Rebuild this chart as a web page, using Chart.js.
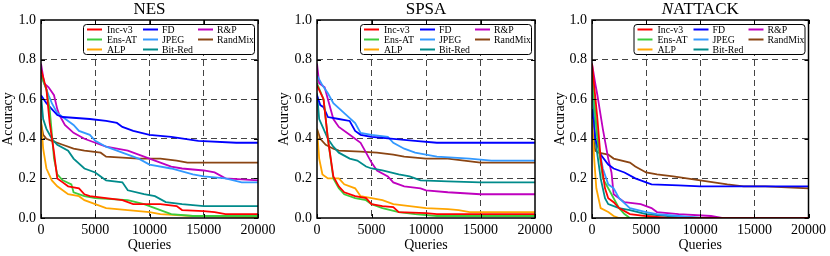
<!DOCTYPE html>
<html>
<head>
<meta charset="utf-8">
<script src="https://cdn.jsdelivr.net/npm/chart.js@4.4.1/dist/chart.umd.min.js"></script>
<style>
  body { margin: 0; background: #fff; }
  #wrap { position: relative; width: 830px; height: 256px; overflow: hidden; }
  canvas { position: absolute; top: 0; }
</style>
</head>
<body>
<div id="wrap">
  <canvas id="c1" width="285" height="256" style="left:0px"></canvas>
  <canvas id="c2" width="285" height="256" style="left:272px"></canvas>
  <canvas id="c3" width="282" height="256" style="left:548px"></canvas>
</div>
<script>
// series names and colours (legend order)
const seriesNames = ['Inc-v3', 'Ens-AT', 'ALP', 'FD', 'JPEG', 'Bit-Red', 'R&P', 'RandMix'];
const seriesColors = ['#ff0000', '#3ccc3c', '#ffa500', '#0000ff', '#3399ff', '#008b8b', '#bf00bf', '#8b4513'];
const xTicks = [0, 5000, 10000, 15000, 20000];
const yTicks = [0, 0.2, 0.4, 0.6, 0.8, 1.0];

// NES: [queries, accuracy]
const nesIncV3 = [[0,0.75],[500,0.65],[800,0.48],[1200,0.33],[1500,0.20],[2000,0.18],[2500,0.16],[3500,0.15],[4000,0.12],[4500,0.11],[6000,0.10],[7500,0.09],[8500,0.07],[11000,0.07],[12500,0.06],[13000,0.04],[15000,0.035],[16000,0.03],[17000,0.02],[20000,0.02]];
const nesEnsAT = [[0,0.72],[500,0.65],[800,0.55],[1200,0.30],[1500,0.22],[2000,0.19],[2800,0.17],[3000,0.13],[4000,0.11],[5000,0.10],[8000,0.09],[9500,0.07],[10500,0.05],[12000,0.02],[14000,0.01],[20000,0.01]];
const nesALP = [[0,0.50],[200,0.35],[500,0.25],[1000,0.19],[1500,0.16],[2000,0.14],[2500,0.12],[3500,0.11],[4000,0.09],[5000,0.07],[6000,0.05],[8000,0.04],[10000,0.03],[11000,0.02],[14000,0.01],[20000,0.005]];
const nesFD = [[0,0.62],[500,0.58],[1000,0.55],[1500,0.52],[2000,0.51],[4500,0.50],[6000,0.49],[7000,0.48],[7500,0.46],[8500,0.44],[10000,0.42],[12000,0.41],[14500,0.39],[18000,0.38],[20000,0.38]];
const nesJPEG = [[0,0.72],[300,0.68],[700,0.62],[1000,0.58],[1500,0.53],[2000,0.51],[3000,0.47],[3500,0.44],[4500,0.42],[5000,0.39],[6000,0.36],[7000,0.34],[8000,0.32],[9000,0.30],[10000,0.27],[12000,0.25],[14000,0.22],[15000,0.21],[17000,0.20],[18500,0.18],[20000,0.18]];
const nesBitRed = [[0,0.62],[200,0.50],[500,0.45],[1000,0.40],[1500,0.37],[2500,0.34],[3000,0.30],[4000,0.25],[5000,0.23],[5500,0.21],[6000,0.19],[7500,0.18],[8000,0.14],[9500,0.12],[10500,0.11],[11500,0.08],[13000,0.07],[15000,0.06],[20000,0.06]];
const nesRP = [[0,0.78],[300,0.68],[700,0.66],[1200,0.62],[1500,0.55],[1700,0.52],[2200,0.47],[3000,0.43],[4000,0.40],[5000,0.38],[6000,0.36],[7000,0.35],[8000,0.34],[9000,0.32],[10000,0.30],[11000,0.28],[12000,0.26],[13000,0.25],[15000,0.24],[16000,0.23],[17000,0.20],[20000,0.19]];
const nesRandMix = [[0,0.48],[200,0.42],[500,0.40],[1000,0.39],[2000,0.37],[3000,0.35],[4000,0.34],[5500,0.33],[6000,0.31],[9000,0.30],[11000,0.30],[12500,0.29],[13500,0.28],[20000,0.28]];

// SPSA
const spsaIncV3 = [[0,0.67],[600,0.60],[1000,0.40],[1500,0.21],[2000,0.16],[2500,0.13],[3500,0.11],[4500,0.10],[5000,0.07],[6000,0.06],[7000,0.055],[7500,0.03],[10000,0.025],[11000,0.02],[20000,0.02]];
const spsaEnsAT = [[0,0.68],[600,0.60],[1000,0.40],[1500,0.20],[2000,0.15],[2500,0.12],[3500,0.10],[4500,0.09],[5000,0.07],[6000,0.05],[7500,0.03],[9000,0.02],[11000,0.01],[20000,0.01]];
const spsaALP = [[0,0.45],[200,0.30],[500,0.22],[1000,0.20],[2000,0.20],[2500,0.17],[3500,0.15],[4000,0.11],[5000,0.10],[6000,0.09],[7000,0.07],[8500,0.06],[10000,0.05],[12000,0.045],[13000,0.04],[14000,0.03],[20000,0.03]];
const spsaFD = [[0,0.62],[300,0.57],[600,0.56],[1000,0.51],[2000,0.50],[3000,0.49],[3500,0.44],[4000,0.42],[5000,0.41],[7000,0.40],[9000,0.39],[11000,0.38],[20000,0.38]];
const spsaJPEG = [[0,0.72],[500,0.67],[1000,0.63],[1500,0.58],[2500,0.53],[3500,0.48],[4000,0.43],[5000,0.42],[6500,0.41],[7000,0.38],[8000,0.35],[9000,0.33],[11000,0.31],[14000,0.30],[16000,0.29],[20000,0.29]];
const spsaBitRed = [[0,0.63],[200,0.50],[600,0.45],[1000,0.40],[1500,0.36],[2000,0.33],[3000,0.30],[3700,0.29],[4500,0.26],[5000,0.25],[6000,0.24],[7500,0.22],[8500,0.21],[9000,0.20],[9500,0.19],[12000,0.185],[15000,0.18],[20000,0.18]];
const spsaRP = [[0,0.78],[200,0.68],[700,0.66],[1000,0.60],[1500,0.50],[2000,0.46],[3000,0.42],[4000,0.38],[4500,0.33],[5000,0.28],[5500,0.24],[6500,0.21],[7000,0.18],[8000,0.16],[9500,0.15],[10000,0.14],[12000,0.13],[15000,0.12],[20000,0.12]];
const spsaRandMix = [[0,0.45],[300,0.40],[800,0.37],[1500,0.35],[2000,0.34],[4000,0.335],[5500,0.33],[7000,0.32],[8000,0.31],[10000,0.30],[12000,0.30],[13500,0.29],[15000,0.28],[20000,0.28]];

// NATTACK
const natIncV3 = [[0,0.78],[500,0.50],[800,0.30],[1200,0.15],[1500,0.10],[2000,0.08],[2500,0.05],[3500,0.02],[5000,0.01],[7000,0],[20000,0]];
const natEnsAT = [[0,0.72],[500,0.40],[1000,0.20],[1500,0.15],[2000,0.10],[2500,0.05],[3000,0.02],[3500,0],[20000,0]];
const natALP = [[0,0.50],[200,0.30],[400,0.15],[800,0.05],[1500,0.03],[2000,0.01],[2500,0],[20000,0]];
const natFD = [[0,0.55],[300,0.40],[800,0.32],[1500,0.27],[2000,0.25],[3000,0.23],[4000,0.20],[5000,0.18],[5500,0.17],[8000,0.165],[10000,0.16],[20000,0.16]];
const natJPEG = [[0,0.70],[500,0.40],[1000,0.25],[1500,0.17],[2000,0.15],[2500,0.10],[3500,0.05],[5000,0.03],[6000,0.02],[8000,0.01],[10000,0],[20000,0]];
const natBitRed = [[0,0.70],[300,0.40],[800,0.20],[1200,0.10],[1500,0.07],[2500,0.05],[3500,0.04],[5000,0.02],[7000,0.01],[10000,0],[20000,0]];
const natRP = [[0,0.78],[300,0.68],[500,0.62],[1000,0.45],[1500,0.30],[1800,0.23],[2000,0.12],[2500,0.10],[3000,0.08],[4500,0.07],[5500,0.05],[6000,0.03],[8000,0.02],[11000,0.01],[12000,0],[20000,0]];
const natRandMix = [[0,0.45],[300,0.34],[600,0.33],[1500,0.32],[2000,0.30],[3500,0.28],[4000,0.26],[5000,0.23],[6000,0.22],[7500,0.21],[10000,0.19],[12500,0.17],[14000,0.16],[16000,0.16],[20000,0.15]];

const SERIF = '"Liberation Serif", "DejaVu Serif", serif';

const panels = [
  { id: 'c1', title: [{ t: 'NES' }], left: 41, right: 27, titlePad: 0,
    series: [nesIncV3, nesEnsAT, nesALP, nesFD, nesJPEG, nesBitRed, nesRP, nesRandMix] },
  { id: 'c2', title: [{ t: 'SPSA' }], left: 45, right: 22, titlePad: 4,
    series: [spsaIncV3, spsaEnsAT, spsaALP, spsaFD, spsaJPEG, spsaBitRed, spsaRP, spsaRandMix] },
  { id: 'c3', title: [{ t: 'N', italic: true }, { t: 'ATTACK' }], left: 44, right: 19, titlePad: 4,
    series: [natIncV3, natEnsAT, natALP, natFD, natJPEG, natBitRed, natRP, natRandMix] }
];

// frame, inner ticks, title and a 3-column legend inside the plot
const decor = {
  id: 'decor',
  afterDatasetsDraw(chart, args, opts) {
    const { ctx, chartArea: a, scales } = chart;
    ctx.save();
    ctx.strokeStyle = '#000';
    ctx.lineWidth = 1;
    xTicks.forEach(v => {
      const x = Math.round(scales.x.getPixelForValue(v)) + 0.5;
      ctx.beginPath();
      ctx.moveTo(x, a.top); ctx.lineTo(x, a.top + 4);
      ctx.moveTo(x, a.bottom); ctx.lineTo(x, a.bottom - 4);
      ctx.stroke();
    });
    yTicks.forEach(v => {
      const y = Math.round(scales.y.getPixelForValue(v)) + 0.5;
      ctx.beginPath();
      ctx.moveTo(a.left, y); ctx.lineTo(a.left + 4, y);
      ctx.moveTo(a.right, y); ctx.lineTo(a.right - 4, y);
      ctx.stroke();
    });
    ctx.lineWidth = 1.5;
    ctx.strokeRect(a.left, a.top, a.right - a.left, a.bottom - a.top);
    ctx.restore();
  },
  afterDraw(chart, args, opts) {
    const { ctx, chartArea: a } = chart;
    ctx.save();
    // title
    ctx.fillStyle = '#000';
    ctx.textBaseline = 'middle';
    const parts = opts.title;
    const fontOf = p => (p.italic ? 'italic ' : '') + '17px ' + SERIF;
    let total = 0;
    parts.forEach(p => { ctx.font = fontOf(p); total += ctx.measureText(p.t).width; });
    let tx = (a.left + a.right) / 2 - total / 2;
    parts.forEach(p => {
      ctx.font = fontOf(p);
      ctx.fillText(p.t, tx, 10);
      tx += ctx.measureText(p.t).width;
    });
    // legend
    const bw = 171, bh = 30;
    const bx = a.right - bw - 4, by = a.top + 4;
    ctx.beginPath();
    ctx.roundRect(bx + 0.5, by + 0.5, bw, bh, 3);
    ctx.fillStyle = '#fff';
    ctx.fill();
    ctx.strokeStyle = '#000';
    ctx.lineWidth = 1;
    ctx.stroke();
    const colLine = [4, 60, 115], colText = [24, 79, 134];
    ctx.font = '9.8px ' + SERIF;
    ctx.textBaseline = 'middle';
    chart.data.datasets.forEach((ds, i) => {
      const col = Math.floor(i / 3), row = i % 3;
      const y = by + 5.5 + row * 10;
      ctx.strokeStyle = ds.borderColor;
      ctx.lineWidth = 2;
      ctx.beginPath();
      ctx.moveTo(bx + colLine[col], y);
      ctx.lineTo(bx + colLine[col] + 15, y);
      ctx.stroke();
      ctx.fillStyle = '#000';
      ctx.fillText(ds.label, bx + colText[col], y + 0.5);
    });
    ctx.restore();
  }
};

const gridColor = (edgeA, edgeB) => c => (c.tick.value === edgeA || c.tick.value === edgeB) ? 'rgba(0,0,0,0)' : '#444';

panels.forEach(p => {
  const datasets = p.series.map((s, i) => ({
    label: seriesNames[i],
    data: s.map(d => ({ x: d[0], y: d[1] })),
    borderColor: seriesColors[i],
    backgroundColor: seriesColors[i],
    borderWidth: 1.8,
    pointRadius: 0,
    tension: 0,
    fill: false
  }));
  new Chart(document.getElementById(p.id), {
    type: 'line',
    data: { datasets },
    plugins: [decor],
    options: {
      responsive: false,
      animation: false,
      layout: { padding: { top: 20, right: p.right, left: 0, bottom: 0 } },
      plugins: {
        legend: { display: false },
        tooltip: { enabled: false },
        decor: { title: p.title }
      },
      scales: {
        x: {
          type: 'linear', min: 0, max: 20000,
          afterBuildTicks: s => { s.ticks = xTicks.map(v => ({ value: v })); },
          afterFit: s => { s.height = 38; },
          ticks: { color: '#000', padding: 4, maxRotation: 0, callback: v => String(v), font: { family: SERIF, size: 14 } },
          grid: { drawTicks: false, color: gridColor(0, 20000), lineWidth: 1 },
          border: { display: false, dash: [6, 4] },
          title: { display: true, text: 'Queries', color: '#000', padding: { top: 0, bottom: 2 }, font: { family: SERIF, size: 14 } }
        },
        y: {
          type: 'linear', min: 0, max: 1,
          afterBuildTicks: s => { s.ticks = yTicks.map(v => ({ value: v })); },
          afterFit: s => { s.width = p.left; },
          ticks: { color: '#000', padding: 5, callback: v => v.toFixed(1), font: { family: SERIF, size: 14 } },
          grid: { drawTicks: false, color: gridColor(0, 1), lineWidth: 1 },
          border: { display: false, dash: [6, 4] },
          title: { display: true, text: 'Accuracy', color: '#000', padding: { top: p.titlePad, bottom: 0 }, font: { family: SERIF, size: 14 } }
        }
      }
    }
  });
});
</script>
</body>
</html>
